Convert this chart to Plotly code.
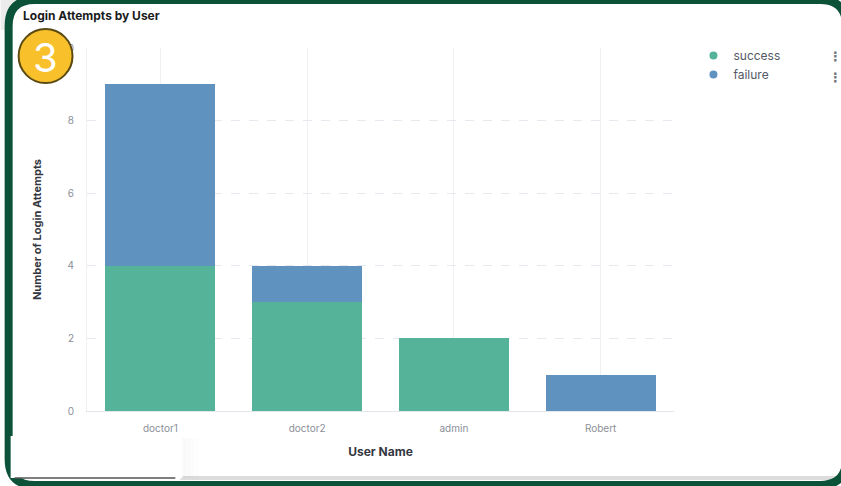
import plotly.graph_objects as go

users = ["doctor1", "doctor2", "admin", "Robert"]
success = [4, 3, 2, 0]
failure = [5, 1, 0, 1]
y_ticks = [0, 2, 4, 6, 8, 10]

W, H = 841, 486
L, R, T, B = 86.5, 674.5, 48, 411

def px(x):
    return (x - L) / (R - L)

def py(y):
    return (B - y) / (B - T)

GREEN = "#54B399"
BLUE = "#6092C0"
FONT = "Inter, Roboto, sans-serif"
TICK = "#8b8f98"

fig = go.Figure()
fig.add_trace(go.Bar(x=users, y=success, name="success", marker=dict(color=GREEN, line=dict(width=0)),
                     showlegend=False))
fig.add_trace(go.Bar(x=users, y=failure, name="failure", marker=dict(color=BLUE, line=dict(width=0)),
                     showlegend=False))
# legend entries with round markers
fig.add_trace(go.Scatter(x=[None], y=[None], mode="markers", name="success",
                         marker=dict(color=GREEN, size=8, symbol="circle")))
fig.add_trace(go.Scatter(x=[None], y=[None], mode="markers", name="failure",
                         marker=dict(color=BLUE, size=8, symbol="circle")))

shapes = []
# light grey outside the rounded top-left corner
shapes.append(dict(type="rect", xref="paper", yref="paper", x0=px(0), x1=px(30), y0=py(30), y1=py(0),
                   line=dict(width=0), fillcolor="#ececec", layer="below"))
# outer frame (rounded rectangle)
x0, y0, x1, y1, r = 8, 0, 847, 485, 26
inner = (f"M {px(x0+r)},{py(y0)} L {px(x1-r)},{py(y0)} Q {px(x1)},{py(y0)} {px(x1)},{py(y0+r)} "
         f"L {px(x1)},{py(y1-r)} Q {px(x1)},{py(y1)} {px(x1-r)},{py(y1)} "
         f"L {px(x0+r)},{py(y1)} Q {px(x0)},{py(y1)} {px(x0)},{py(y1-r)} "
         f"L {px(x0)},{py(y0+r)} Q {px(x0)},{py(y0)} {px(x0+r)},{py(y0)} Z")
shapes.append(dict(type="path", xref="paper", yref="paper", path=inner,
                   line=dict(width=0), fillcolor="#ffffff", layer="below"))
shapes.append(dict(type="path", xref="paper", yref="paper", path=inner,
                   line=dict(color="#0B5239", width=8), fillcolor="rgba(0,0,0,0)", layer="above"))
# bottom grey band
shapes.append(dict(type="rect", xref="paper", yref="paper", x0=px(180), x1=px(845), y0=py(480), y1=py(476),
                   line=dict(width=0), fillcolor="#dcdcdc", layer="below"))
# bottom-left white box with soft shadow
for i, a in enumerate([0.025, 0.018, 0.012, 0.007]):
    shapes.append(dict(type="rect", xref="paper", yref="paper", x0=px(182 + i * 4), x1=px(186 + i * 4),
                       y0=py(478), y1=py(438), line=dict(width=0), fillcolor=f"rgba(0,0,0,{a})", layer="above"))
shapes.append(dict(type="rect", xref="paper", yref="paper", x0=px(10), x1=px(182), y0=py(478), y1=py(436),
                   line=dict(width=0), fillcolor="#ffffff", layer="above"))
shapes.append(dict(type="line", xref="paper", yref="paper", x0=px(14), x1=px(175), y0=py(478), y1=py(478),
                   line=dict(color="#555555", width=1.5), layer="above"))
# yellow badge
cx, cy, cr = 45, 56, 27
shapes.append(dict(type="circle", xref="paper", yref="paper", x0=px(cx-cr), x1=px(cx+cr), y0=py(cy+cr), y1=py(cy-cr),
                   line=dict(color="#5B4A12", width=2), fillcolor="#F8C12C", layer="above"))

annotations = [
    dict(text="<b>Login Attempts by User</b>", x=px(20), y=py(15), xref="paper", yref="paper",
         xanchor="left", yanchor="middle", showarrow=False, font=dict(family=FONT, size=12, color="#1a1c21")),
    dict(text="3", x=px(cx), y=py(cy+1), xref="paper", yref="paper", xanchor="center", yanchor="middle",
         showarrow=False, font=dict(family=FONT, size=40, color="#ffffff")),
    dict(text="<b>⋮</b>", x=px(836), y=py(56), xref="paper", yref="paper", xanchor="center", yanchor="middle",
         showarrow=False, font=dict(family="DejaVu Sans", size=13, color="#6f747d")),
    dict(text="<b>⋮</b>", x=px(836), y=py(77), xref="paper", yref="paper", xanchor="center", yanchor="middle",
         showarrow=False, font=dict(family="DejaVu Sans", size=13, color="#6f747d")),
]

fig.update_layout(
    width=W, height=H,
    margin=dict(l=L, r=W - R, t=T, b=H - B, pad=0),
    barmode="stack",
    bargap=0.25,
    paper_bgcolor="#ffffff",
    plot_bgcolor="#ffffff",
    font=dict(family=FONT, size=10, color=TICK),
    shapes=shapes,
    annotations=annotations,
    legend=dict(x=px(694), y=py(41), xanchor="left", yanchor="top", xref="paper", yref="paper",
                font=dict(family=FONT, size=12, color="#535966"), itemwidth=30, traceorder="normal",
                bgcolor="rgba(0,0,0,0)", tracegroupgap=0),
    xaxis=dict(
        showgrid=True, gridcolor="#eef0f3", gridwidth=1,
        showline=True, linecolor="#e3e6eb", linewidth=1,
        ticks="", ticklabelstandoff=8,
        tickfont=dict(family=FONT, size=10, color=TICK),
        title=dict(text="<b>User Name</b>", standoff=14, font=dict(family=FONT, size=12, color="#343741")),
    ),
    yaxis=dict(
        range=[0, 10], tickvals=y_ticks,
        showgrid=True, gridcolor="#e6e9ee", gridwidth=1, griddash="dash",
        showline=True, linecolor="#eef0f3", linewidth=1,
        zeroline=False,
        ticks="", ticklabelstandoff=10,
        tickfont=dict(family=FONT, size=10, color=TICK),
        title=dict(text="<b>Number of Login Attempts</b>", standoff=19,
                   font=dict(family=FONT, size=11, color="#343741")),
    ),
)

fig.write_html("out.html")
